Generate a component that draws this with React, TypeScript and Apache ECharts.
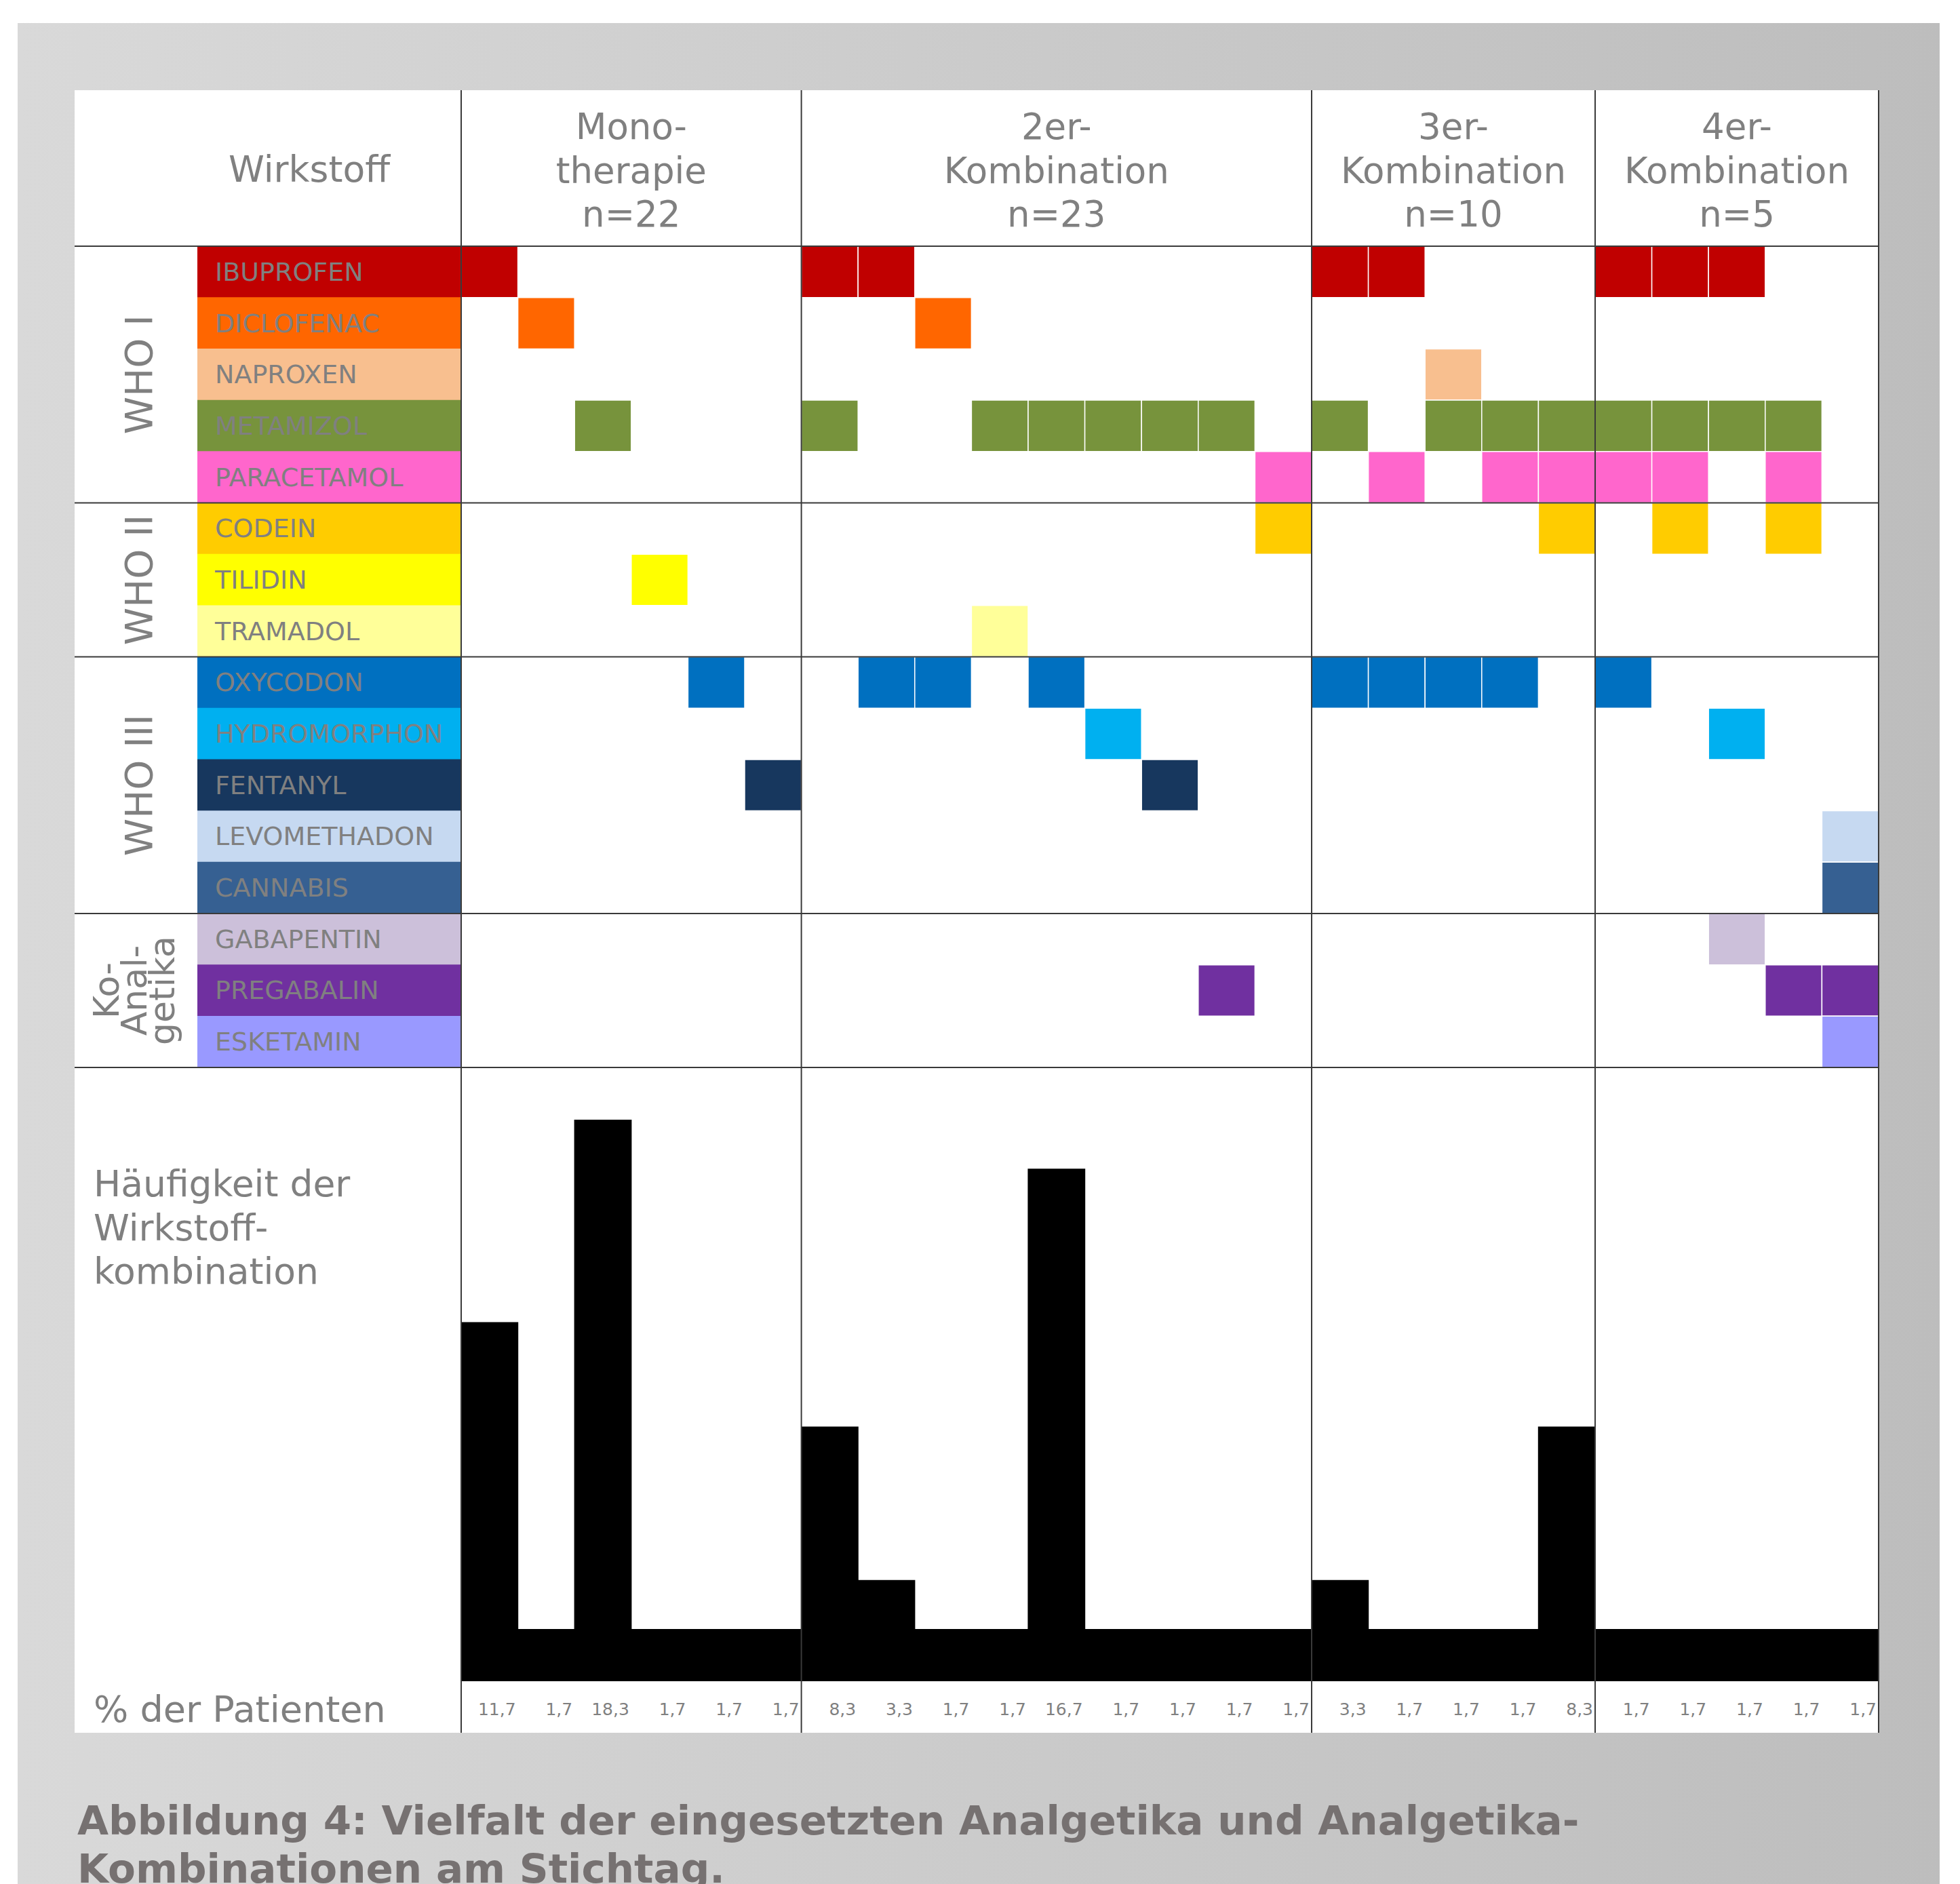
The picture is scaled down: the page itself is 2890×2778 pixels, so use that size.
import React, { useEffect, useRef } from "react";
import * as echarts from "echarts";

// ---------- data ----------
const drugs = [
  "IBUPROFEN", "DICLOFENAC", "NAPROXEN", "METAMIZOL", "PARACETAMOL",
  "CODEIN", "TILIDIN", "TRAMADOL",
  "OXYCODON", "HYDROMORPHON", "FENTANYL", "LEVOMETHADON", "CANNABIS",
  "GABAPENTIN", "PREGABALIN", "ESKETAMIN",
];
const drugColors = [
  "#C00000", "#FF6600", "#F8BF8F", "#77933C", "#FF66CC",
  "#FFCC00", "#FFFF00", "#FFFF99",
  "#0070C0", "#00B0F0", "#17375E", "#C6D9F1", "#366092",
  "#CCC0DA", "#7030A0", "#9999FF",
];
const drugGroups = ["WHO I", "WHO II", "WHO III", "Ko-\nAnal-\ngetika"];
const drugGroupSizes = [5, 3, 5, 3];

const comboGroups = [
  "Mono-\ntherapie\nn=22",
  "2er-\nKombination\nn=23",
  "3er-\nKombination\nn=10",
  "4er-\nKombination\nn=5",
];
const comboGroupSizes = [6, 9, 5, 5];

const combinations = [
  ["IBUPROFEN"], ["DICLOFENAC"], ["METAMIZOL"], ["TILIDIN"], ["OXYCODON"], ["FENTANYL"],
  ["IBUPROFEN", "METAMIZOL"], ["IBUPROFEN", "OXYCODON"], ["DICLOFENAC", "OXYCODON"],
  ["METAMIZOL", "TRAMADOL"], ["METAMIZOL", "OXYCODON"], ["METAMIZOL", "HYDROMORPHON"],
  ["METAMIZOL", "FENTANYL"], ["METAMIZOL", "PREGABALIN"], ["PARACETAMOL", "CODEIN"],
  ["IBUPROFEN", "METAMIZOL", "OXYCODON"], ["IBUPROFEN", "PARACETAMOL", "OXYCODON"],
  ["NAPROXEN", "METAMIZOL", "OXYCODON"], ["METAMIZOL", "PARACETAMOL", "OXYCODON"],
  ["METAMIZOL", "PARACETAMOL", "CODEIN"],
  ["IBUPROFEN", "METAMIZOL", "PARACETAMOL", "OXYCODON"],
  ["IBUPROFEN", "METAMIZOL", "PARACETAMOL", "CODEIN"],
  ["IBUPROFEN", "METAMIZOL", "HYDROMORPHON", "GABAPENTIN"],
  ["METAMIZOL", "PARACETAMOL", "CODEIN", "PREGABALIN"],
  ["LEVOMETHADON", "CANNABIS", "PREGABALIN", "ESKETAMIN"],
];
const percentages = [
  11.7, 1.7, 18.3, 1.7, 1.7, 1.7,
  8.3, 3.3, 1.7, 1.7, 16.7, 1.7, 1.7, 1.7, 1.7,
  3.3, 1.7, 1.7, 1.7, 8.3,
  1.7, 1.7, 1.7, 1.7, 1.7,
];

const caption1 = "Abbildung 4: Vielfalt der eingesetzten Analgetika und Analgetika-";
const caption2 = "Kombinationen am Stichtag.";

// ---------- layout ----------
const W = 2890;
const H = 2778;
const FONT = 'Verdana, "DejaVu Sans", sans-serif';
const GRAY = "#808080";
const LINE = "#3a3a3a";
const T_LEFT = 110, T_TOP = 133, T_RIGHT = 2770, T_BOTTOM = 2555;
const HEAD_BOTTOM = 363;
const MATRIX_BOTTOM = 1574;
const BAR_BOTTOM = 2479;
const LABEL_LEFT = 291;
const COL_LEFT = 680;

const fmt = (v: number) => v.toFixed(1).replace(".", ",");

export default function App() {
  const ref = useRef<HTMLDivElement>(null);

  useEffect(() => {
    if (!ref.current) return;
    const chart = echarts.init(ref.current, null, { renderer: "svg" });

    const nCols = combinations.length;
    const nRows = drugs.length;
    const colW = (T_RIGHT - COL_LEFT) / nCols;
    const rowH = (MATRIX_BOTTOM - HEAD_BOTTOM) / nRows;
    const colIds = combinations.map((_, i) => "K" + (i + 1));

    const cells: number[][] = [];
    combinations.forEach((combo, c) => {
      combo.forEach((d) => cells.push([c, drugs.indexOf(d)]));
    });

    const graphics: any[] = [];
    // background
    graphics.push({
      type: "rect",
      shape: { x: 26, y: 34, width: 2834, height: H },
      style: {
        fill: {
          type: "linear", x: 0, y: 0, x2: 1, y2: 0,
          colorStops: [
            { offset: 0, color: "#d9d9d9" },
            { offset: 1, color: "#bdbdbd" },
          ],
        },
      },
      z: -10,
    });
    graphics.push({
      type: "rect",
      shape: { x: T_LEFT, y: T_TOP, width: T_RIGHT - T_LEFT, height: T_BOTTOM - T_TOP },
      style: { fill: "#ffffff" },
      z: -9,
    });

    // header texts
    graphics.push({
      type: "text", x: 456, y: 249,
      style: { text: "Wirkstoff", fill: GRAY, fontSize: 53.5, fontFamily: FONT, align: "center", verticalAlign: "middle" },
      z: 5,
    });
    let acc = 0;
    const vx: number[] = [COL_LEFT];
    comboGroups.forEach((g, i) => {
      const x0 = COL_LEFT + acc * colW;
      acc += comboGroupSizes[i];
      const x1 = COL_LEFT + acc * colW;
      vx.push(x1);
      graphics.push({
        type: "text", x: (x0 + x1) / 2, y: 251,
        style: { text: g, fill: GRAY, fontSize: 53, fontFamily: FONT, align: "center", verticalAlign: "middle", lineHeight: 64.5 },
        z: 5,
      });
    });

    // drug group labels
    let racc = 0;
    const hy: number[] = [HEAD_BOTTOM];
    drugGroups.forEach((g, i) => {
      const y0 = HEAD_BOTTOM + racc * rowH;
      racc += drugGroupSizes[i];
      const y1 = HEAD_BOTTOM + racc * rowH;
      hy.push(y1);
      const multi = g.indexOf("\n") >= 0;
      graphics.push({
        type: "text", x: multi ? 198 : 204, y: (y0 + y1) / 2, rotation: Math.PI / 2,
        style: {
          text: g, fill: GRAY, fontSize: multi ? 52 : 56, fontFamily: FONT,
          align: "center", verticalAlign: "middle", lineHeight: multi ? 41 : 60,
        },
        z: 5,
      });
    });

    // bar section texts
    graphics.push({
      type: "text", x: 138, y: 1810,
      style: { text: "Häufigkeit der\nWirkstoff-\nkombination", fill: GRAY, fontSize: 53.5, fontFamily: FONT, align: "left", verticalAlign: "middle", lineHeight: 64.5 },
      z: 5,
    });
    graphics.push({
      type: "text", x: 138, y: 2520,
      style: { text: "% der Patienten", fill: GRAY, fontSize: 54, fontFamily: FONT, align: "left", verticalAlign: "middle" },
      z: 5,
    });

    // lines
    hy.forEach((y) => {
      graphics.push({
        type: "line", shape: { x1: T_LEFT, y1: y, x2: T_RIGHT, y2: y },
        style: { stroke: LINE, lineWidth: 2 }, z: 50,
      });
    });
    vx.forEach((x) => {
      graphics.push({
        type: "line", shape: { x1: x, y1: T_TOP, x2: x, y2: T_BOTTOM },
        style: { stroke: LINE, lineWidth: 2 }, z: 50,
      });
    });

    // caption
    graphics.push({
      type: "text", x: 114, y: 2684,
      style: { text: caption1, fill: "#767171", fontSize: 59.5, fontWeight: "bold", fontFamily: FONT, align: "left", verticalAlign: "middle" },
      z: 5,
    });
    graphics.push({
      type: "text", x: 114, y: 2755,
      style: { text: caption2, fill: "#767171", fontSize: 59.5, fontWeight: "bold", fontFamily: FONT, align: "left", verticalAlign: "middle" },
      z: 5,
    });

    const option: any = {
      animation: false,
      backgroundColor: "#ffffff",
      grid: [
        { left: LABEL_LEFT, top: HEAD_BOTTOM, width: COL_LEFT - LABEL_LEFT, height: MATRIX_BOTTOM - HEAD_BOTTOM },
        { left: COL_LEFT, top: HEAD_BOTTOM, width: T_RIGHT - COL_LEFT, height: MATRIX_BOTTOM - HEAD_BOTTOM },
        { left: COL_LEFT, top: MATRIX_BOTTOM, width: T_RIGHT - COL_LEFT, height: BAR_BOTTOM - MATRIX_BOTTOM },
      ],
      xAxis: [
        { type: "value", gridIndex: 0, min: 0, max: 1, show: false },
        { type: "category", gridIndex: 1, data: colIds, show: false },
        { type: "category", gridIndex: 2, data: colIds, show: false },
      ],
      yAxis: [
        { type: "category", gridIndex: 0, data: drugs, inverse: true, show: false },
        { type: "category", gridIndex: 1, data: drugs, inverse: true, show: false },
        { type: "value", gridIndex: 2, min: 0, max: 20, show: false },
      ],
      graphic: { elements: graphics },
      series: [
        {
          // colored drug label boxes
          type: "custom",
          xAxisIndex: 0, yAxisIndex: 0,
          clip: false,
          data: drugs.map((_, i) => [1, i]),
          renderItem: (params: any, api: any) => {
            const r = api.value(1);
            const p0 = api.coord([0, r]);
            const p1 = api.coord([api.value(0), r]);
            const h = api.size([0, 1])[1];
            return {
              type: "group",
              children: [
                {
                  type: "rect",
                  shape: { x: p0[0], y: p0[1] - h / 2 - 0.4, width: p1[0] - p0[0], height: h + 0.8 },
                  style: { fill: drugColors[r] },
                },
                {
                  type: "text",
                  x: p0[0] + 26, y: p0[1],
                  style: { text: drugs[r], fill: GRAY, fontSize: 38, fontFamily: FONT, align: "left", verticalAlign: "middle" },
                },
              ],
            };
          },
          silent: true,
        },
        {
          // combination matrix
          type: "custom",
          xAxisIndex: 1, yAxisIndex: 1,
          data: cells,
          renderItem: (params: any, api: any) => {
            const c = api.value(0);
            const r = api.value(1);
            const p = api.coord([c, r]);
            const s = api.size([1, 1]);
            return {
              type: "rect",
              shape: { x: p[0] - s[0] / 2, y: p[1] - s[1] / 2, width: s[0], height: s[1] },
              style: { fill: drugColors[r], stroke: "#ffffff", lineWidth: 1.5 },
            };
          },
          silent: true,
        },
        {
          // frequency bars + percentage labels
          type: "custom",
          xAxisIndex: 2, yAxisIndex: 2,
          clip: false,
          data: percentages.map((v, i) => [i, v]),
          renderItem: (params: any, api: any) => {
            const i = api.value(0);
            const v = api.value(1);
            const base = api.coord([i, 0]);
            const top = api.coord([i, v]);
            const w = api.size([1, 0])[0];
            const x0 = base[0] - w / 2;
            const x1 = base[0] + w / 2;
            return {
              type: "group",
              children: [
                {
                  type: "rect",
                  shape: { x: x0 - 0.6, y: top[1], width: w + 1.2, height: base[1] - top[1] },
                  style: { fill: "#000000" },
                },
                {
                  type: "text",
                  x: x1 - 3, y: base[1] + 41,
                  style: { text: fmt(v), fill: GRAY, fontSize: 25, fontFamily: FONT, align: "right", verticalAlign: "middle" },
                },
              ],
            };
          },
          silent: true,
        },
      ],
    };

    chart.setOption(option);
    return () => chart.dispose();
  }, []);

  return (
    <div
      ref={ref}
      style={{ position: "absolute", left: 0, top: 0, width: W, height: H }}
    />
  );
}
